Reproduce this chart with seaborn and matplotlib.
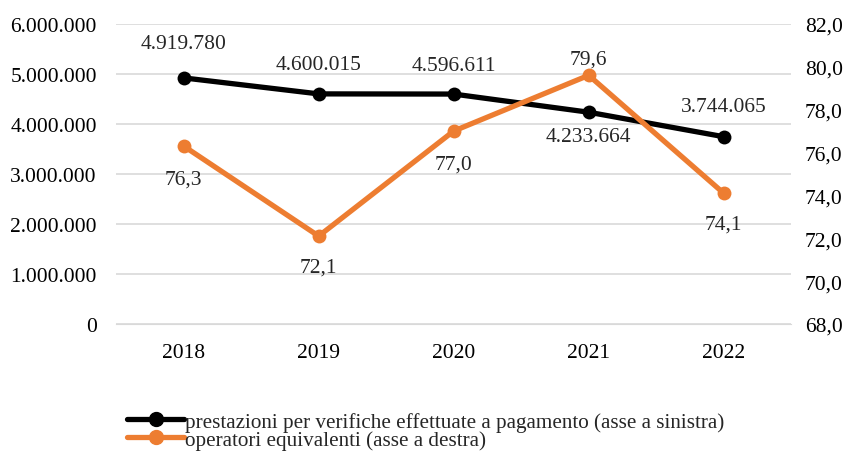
import pandas as pd
import matplotlib.pyplot as plt
import seaborn as sns
from matplotlib.lines import Line2D

# Data
anni = ['2018', '2019', '2020', '2021', '2022']
prestazioni = [4919780, 4600015, 4596611, 4233664, 3744065]
operatori = [76.3, 72.1, 77.0, 79.6, 74.1]

BLACK = '#000000'
ORANGE = '#ED7D31'
GRID = '#D9D9D9'
FS = 15.5


def it_int(v):
    return f'{int(round(v)):,}'.replace(',', '.')


def it_dec(v):
    return f'{v:.1f}'.replace('.', ',')


sns.set_style('white')
plt.rcParams['font.family'] = ['Liberation Serif', 'DejaVu Serif']
plt.rcParams['font.size'] = FS

df = pd.DataFrame({'anno': anni, 'prestazioni': prestazioni, 'operatori': operatori})
df['x'] = range(len(anni))

fig = plt.figure(figsize=(8.48, 4.52), dpi=100)
ax = fig.add_axes([0.137, 0.281, 0.796, 0.664])
ax2 = ax.twinx()

sns.lineplot(data=df, x='x', y='prestazioni', ax=ax, color=BLACK, linewidth=3.8,
             marker='o', markersize=10, markeredgewidth=0, zorder=3)
sns.lineplot(data=df, x='x', y='operatori', ax=ax2, color=ORANGE, linewidth=3.8,
             marker='o', markersize=10, markeredgewidth=0, zorder=3)

ax.set_ylim(0, 6000000)
ax.set_yticks(range(0, 6000001, 1000000))
ax.set_yticklabels([it_int(v) for v in range(0, 6000001, 1000000)])
ax2.set_ylim(68, 82)
ax2.set_yticks([68 + 2 * i for i in range(8)])
ax2.set_yticklabels([it_dec(68 + 2 * i) for i in range(8)])

ax.set_xlim(-0.5, len(anni) - 0.5)
ax.set_xticks(df['x'])
ax.set_xticklabels(anni)

ax.grid(axis='y', color=GRID, linewidth=1.2)
ax.set_axisbelow(True)
for a in (ax, ax2):
    for s in a.spines.values():
        s.set_visible(False)
    a.set_xlabel('')
    a.set_ylabel('')
    a.tick_params(length=0, labelsize=FS, colors='#000000')
ax.spines['bottom'].set_visible(True)
ax.spines['bottom'].set_color(GRID)
ax.tick_params(axis='x', pad=14)
ax.tick_params(axis='y', pad=14)
ax2.tick_params(axis='y', pad=10)
ax2.set_zorder(ax.get_zorder() + 1)
ax2.patch.set_visible(False)

# data labels, offsets in pixels
black_off = [34, 29, 29, -24, 30]
orange_off = [-33, -31, -33, 16, -31]
for i in range(len(anni)):
    ax.annotate(it_int(prestazioni[i]), (i, prestazioni[i]), xytext=(0, black_off[i] * 0.72),
                textcoords='offset points', ha='center', va='center', fontsize=FS)
    ax2.annotate(it_dec(operatori[i]), (i, operatori[i]), xytext=(0, orange_off[i] * 0.72),
                 textcoords='offset points', ha='center', va='center', fontsize=FS)

handles = [
    Line2D([0], [0], color=BLACK, linewidth=3.8, marker='o', markersize=10),
    Line2D([0], [0], color=ORANGE, linewidth=3.8, marker='o', markersize=10),
]
fig.legend(handles,
           ['prestazioni per verifiche effettuate a pagamento (asse a sinistra)',
            'operatori equivalenti (asse a destra)'],
           loc='lower left', bbox_to_anchor=(0.14, -0.016), frameon=False,
           fontsize=15.2, handlelength=2.7, handletextpad=0.05, labelspacing=-0.08,
           borderaxespad=0.0)

fig.savefig('out.png', dpi=100)
plt.close(fig)
